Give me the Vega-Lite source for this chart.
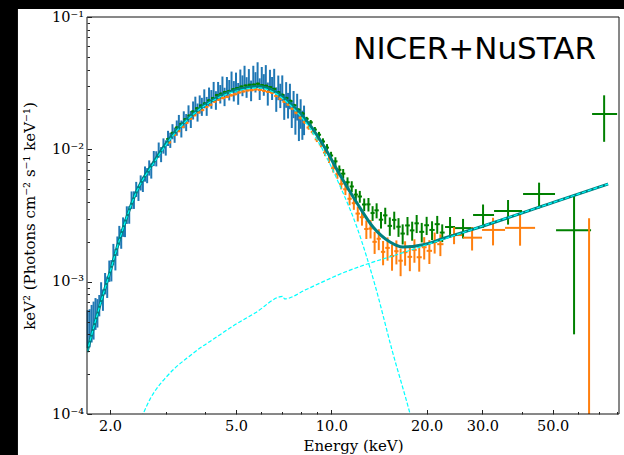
{
 "$schema": "https://vega.github.io/schema/vega-lite/v6.json",
 "width": 532, "height": 397,
 "autosize": {"type": "none"},
 "padding": {"left": 87, "top": 17, "right": 5, "bottom": 41},
 "background": "black",
 "config": {
  "view": {"stroke": null},
  "axis": {"zindex": 1, "grid": false, "domain": false, "labelFont": "DejaVu Serif", "titleFont": "DejaVu Serif", "labelFontSize": 14.5, "titleFontSize": 15, "titleFontWeight": "normal", "labelColor": "black", "titleColor": "black", "tickColor": "#222", "tickWidth": 1, "labelOverlap": false, "labelFlush": false, "labelBound": false}
 },
 "resolve": {"axis": {"x": "independent", "y": "independent"}},
 "datasets": {
  "nicer": [
   {"E":1.7,"F":4.62e-4,"err":1.47e-4},{"E":1.725,"F":4.69e-4,"err":1.5e-4},{"E":1.75,"F":5.07e-4,"err":1.6e-4},{"E":1.775,"F":5.36e-4,"err":1.71e-4},{"E":1.8,"F":5.92e-4,"err":1.6e-4},{"E":1.825,"F":5.94e-4,"err":1.44e-4},{"E":1.85,"F":6.7e-4,"err":1.23e-4},{"E":1.875,"F":8.36e-4,"err":1.54e-4},{"E":1.9,"F":7.38e-4,"err":1.36e-4},{"E":1.93,"F":9.82e-4,"err":1.81e-4},
   {"E":1.96,"F":9.23e-4,"err":1.7e-4},{"E":1.99,"F":1.22e-3,"err":2.24e-4},{"E":2.02,"F":1.23e-3,"err":2.26e-4},{"E":2.05,"F":1.63e-3,"err":2.99e-4},{"E":2.08,"F":1.49e-3,"err":2.74e-4},{"E":2.11,"F":1.88e-3,"err":3.15e-4},{"E":2.14,"F":2.26e-3,"err":3.79e-4},{"E":2.17,"F":2.13e-3,"err":3.58e-4},{"E":2.2,"F":2.62e-3,"err":4.4e-4},{"E":2.23,"F":2.56e-3,"err":3.89e-4},
   {"E":2.26,"F":3.22e-3,"err":4.9e-4},{"E":2.3,"F":3.23e-3,"err":4.91e-4},{"E":2.34,"F":4.17e-3,"err":6.34e-4},{"E":2.38,"F":4.18e-3,"err":6.35e-4},{"E":2.42,"F":5.02e-3,"err":6.56e-4},{"E":2.46,"F":4.68e-3,"err":6.08e-4},{"E":2.5,"F":5.62e-3,"err":7.36e-4},{"E":2.54,"F":5.48e-3,"err":7.2e-4},{"E":2.58,"F":6.56e-3,"err":8.64e-4},{"E":2.62,"F":6.38e-3,"err":8.32e-4},
   {"E":2.66,"F":7.29e-3,"err":9.6e-4},{"E":2.7,"F":6.92e-3,"err":9.12e-4},{"E":2.75,"F":8.59e-3,"err":1.12e-3},{"E":2.8,"F":8.55e-3,"err":1.12e-3},{"E":2.85,"F":9.95e-3,"err":1.31e-3},{"E":2.9,"F":9.2e-3,"err":1.2e-3},{"E":2.95,"F":1.069e-2,"err":1.41e-3},{"E":3.0,"F":1.033e-2,"err":1.36e-3},{"E":3.05,"F":1.22e-2,"err":1.6e-3},{"E":3.1,"F":1.18e-2,"err":1.55e-3},
   {"E":3.15,"F":1.37e-2,"err":1.79e-3},{"E":3.2,"F":1.29e-2,"err":1.7e-3},{"E":3.25,"F":1.46e-2,"err":1.92e-3},{"E":3.3,"F":1.585e-2,"err":2.34e-3},{"E":3.36,"F":1.44e-2,"err":2.11e-3},{"E":3.42,"F":1.69e-2,"err":2.48e-3},{"E":3.48,"F":1.61e-2,"err":2.37e-3},{"E":3.54,"F":1.875e-2,"err":2.75e-3},{"E":3.6,"F":1.7e-2,"err":2.5e-3},{"E":3.66,"F":1.99e-2,"err":3.1e-3},
   {"E":3.72,"F":2.16e-2,"err":3.4e-3},{"E":3.78,"F":1.92e-2,"err":3.0e-3},{"E":3.84,"F":2.21e-2,"err":3.45e-3},{"E":3.9,"F":2.12e-2,"err":3.3e-3},{"E":3.97,"F":2.44e-2,"err":4.0e-3},{"E":4.04,"F":2.14e-2,"err":3.5e-3},{"E":4.11,"F":2.52e-2,"err":4.1e-3},{"E":4.18,"F":2.415e-2,"err":3.9e-3},{"E":4.25,"F":2.78e-2,"err":4.5e-3},{"E":4.32,"F":2.37e-2,"err":3.8e-3},
   {"E":4.39,"F":2.79e-2,"err":4.4e-3},{"E":4.46,"F":2.64e-2,"err":4.2e-3},{"E":4.53,"F":3.06e-2,"err":4.9e-3},{"E":4.6,"F":2.52e-2,"err":4.0e-3},{"E":4.68,"F":3.0e-2,"err":5.2e-3},{"E":4.76,"F":2.84e-2,"err":5.0e-3},{"E":4.84,"F":3.3e-2,"err":5.7e-3},{"E":4.92,"F":2.79e-2,"err":4.9e-3},{"E":5.0,"F":3.24e-2,"err":5.6e-3},{"E":5.08,"F":2.67e-2,"err":5.0e-3},
   {"E":5.16,"F":3.4e-2,"err":6.1e-3},{"E":5.24,"F":3.07e-2,"err":5.5e-3},{"E":5.32,"F":3.65e-2,"err":6.3e-3},{"E":5.4,"F":2.98e-2,"err":5.3e-3},{"E":5.49,"F":3.44e-2,"err":6.0e-3},{"E":5.58,"F":2.81e-2,"err":5.0e-3},{"E":5.67,"F":3.64e-2,"err":6.4e-3},{"E":5.76,"F":3.26e-2,"err":5.7e-3},{"E":5.85,"F":3.85e-2,"err":7.0e-3},{"E":5.94,"F":2.9e-2,"err":5.4e-3},
   {"E":6.03,"F":3.53e-2,"err":6.6e-3},{"E":6.12,"F":3.12e-2,"err":5.8e-3},{"E":6.21,"F":3.63e-2,"err":7.0e-3},{"E":6.3,"F":2.67e-2,"err":5.3e-3},{"E":6.4,"F":3.33e-2,"err":6.6e-3},{"E":6.5,"F":2.94e-2,"err":5.8e-3},{"E":6.6,"F":3.36e-2,"err":7.0e-3},{"E":6.7,"F":2.43e-2,"err":5.1e-3},{"E":6.8,"F":2.98e-2,"err":6.3e-3},{"E":6.9,"F":2.59e-2,"err":5.4e-3},
   {"E":7.0,"F":2.97e-2,"err":6.5e-3},{"E":7.1,"F":2.14e-2,"err":4.7e-3},{"E":7.2,"F":2.64e-2,"err":5.8e-3},{"E":7.3,"F":2.19e-2,"err":4.8e-3},{"E":7.4,"F":2.57e-2,"err":5.6e-3},{"E":7.5,"F":1.88e-2,"err":4.3e-3},{"E":7.6,"F":2.24e-2,"err":5.2e-3},{"E":7.7,"F":1.68e-2,"err":3.9e-3},{"E":7.8,"F":2.14e-2,"err":4.9e-3},{"E":7.9,"F":1.535e-2,"err":3.8e-3},
   {"E":8.0,"F":1.91e-2,"err":4.8e-3},{"E":8.1,"F":1.57e-2,"err":3.9e-3},{"E":8.2,"F":1.71e-2,"err":4.3e-3}
  ],
  "fpma": [
   {"E":3.05,"Elo":3.01,"Ehi":3.09,"F":1.197e-2,"Flo":1.173e-2,"Fhi":1.221e-2},
   {"E":3.15,"Elo":3.11,"Ehi":3.19,"F":1.33e-2,"Flo":1.303e-2,"Fhi":1.357e-2},
   {"E":3.25,"Elo":3.21,"Ehi":3.29,"F":1.46e-2,"Flo":1.431e-2,"Fhi":1.489e-2},
   {"E":3.35,"Elo":3.31,"Ehi":3.39,"F":1.556e-2,"Flo":1.525e-2,"Fhi":1.587e-2},
   {"E":3.45,"Elo":3.41,"Ehi":3.49,"F":1.687e-2,"Flo":1.653e-2,"Fhi":1.721e-2},
   {"E":3.55,"Elo":3.51,"Ehi":3.59,"F":1.795e-2,"Flo":1.759e-2,"Fhi":1.831e-2},
   {"E":3.65,"Elo":3.61,"Ehi":3.69,"F":1.93e-2,"Flo":1.891e-2,"Fhi":1.969e-2},
   {"E":3.76,"Elo":3.71,"Ehi":3.81,"F":2.04e-2,"Flo":1.999e-2,"Fhi":2.081e-2},
   {"E":3.87,"Elo":3.82,"Ehi":3.92,"F":2.14e-2,"Flo":2.097e-2,"Fhi":2.183e-2},
   {"E":3.98,"Elo":3.93,"Ehi":4.03,"F":2.22e-2,"Flo":2.176e-2,"Fhi":2.264e-2},
   {"E":4.1,"Elo":4.05,"Ehi":4.15,"F":2.34e-2,"Flo":2.293e-2,"Fhi":2.387e-2},
   {"E":4.22,"Elo":4.17,"Ehi":4.27,"F":2.44e-2,"Flo":2.391e-2,"Fhi":2.489e-2},
   {"E":4.35,"Elo":4.29,"Ehi":4.41,"F":2.57e-2,"Flo":2.519e-2,"Fhi":2.621e-2},
   {"E":4.48,"Elo":4.42,"Ehi":4.54,"F":2.63e-2,"Flo":2.577e-2,"Fhi":2.683e-2},
   {"E":4.62,"Elo":4.55,"Ehi":4.69,"F":2.71e-2,"Flo":2.656e-2,"Fhi":2.764e-2},
   {"E":4.76,"Elo":4.69,"Ehi":4.83,"F":2.76e-2,"Flo":2.705e-2,"Fhi":2.815e-2},
   {"E":4.9,"Elo":4.83,"Ehi":4.97,"F":2.84e-2,"Flo":2.783e-2,"Fhi":2.897e-2},
   {"E":5.05,"Elo":4.97,"Ehi":5.13,"F":2.9e-2,"Flo":2.84e-2,"Fhi":2.96e-2},
   {"E":5.2,"Elo":5.12,"Ehi":5.28,"F":2.98e-2,"Flo":2.92e-2,"Fhi":3.04e-2},
   {"E":5.36,"Elo":5.28,"Ehi":5.44,"F":3.03e-2,"Flo":2.969e-2,"Fhi":3.091e-2},
   {"E":5.52,"Elo":5.44,"Ehi":5.6,"F":3.07e-2,"Flo":3.009e-2,"Fhi":3.131e-2},
   {"E":5.69,"Elo":5.6,"Ehi":5.78,"F":3.08e-2,"Flo":3.018e-2,"Fhi":3.142e-2},
   {"E":5.86,"Elo":5.77,"Ehi":5.95,"F":3.13e-2,"Flo":3.067e-2,"Fhi":3.193e-2},
   {"E":6.04,"Elo":5.95,"Ehi":6.13,"F":3.05e-2,"Flo":2.989e-2,"Fhi":3.111e-2},
   {"E":6.22,"Elo":6.13,"Ehi":6.31,"F":3.02e-2,"Flo":2.96e-2,"Fhi":3.08e-2},
   {"E":6.41,"Elo":6.31,"Ehi":6.51,"F":2.95e-2,"Flo":2.89e-2,"Fhi":3.01e-2},
   {"E":6.6,"Elo":6.5,"Ehi":6.7,"F":2.86e-2,"Flo":2.8e-2,"Fhi":2.92e-2},
   {"E":6.8,"Elo":6.7,"Ehi":6.9,"F":2.7e-2,"Flo":2.643e-2,"Fhi":2.757e-2},
   {"E":7.0,"Elo":6.9,"Ehi":7.1,"F":2.58e-2,"Flo":2.525e-2,"Fhi":2.635e-2},
   {"E":7.21,"Elo":7.1,"Ehi":7.32,"F":2.44e-2,"Flo":2.385e-2,"Fhi":2.495e-2},
   {"E":7.43,"Elo":7.32,"Ehi":7.54,"F":2.32e-2,"Flo":2.265e-2,"Fhi":2.375e-2},
   {"E":7.65,"Elo":7.54,"Ehi":7.76,"F":2.15e-2,"Flo":2.095e-2,"Fhi":2.205e-2},
   {"E":7.88,"Elo":7.76,"Ehi":8.0,"F":1.99e-2,"Flo":1.935e-2,"Fhi":2.045e-2},
   {"E":8.12,"Elo":8.0,"Ehi":8.24,"F":1.86e-2,"Flo":1.8e-2,"Fhi":1.92e-2},
   {"E":8.36,"Elo":8.24,"Ehi":8.48,"F":1.7e-2,"Flo":1.64e-2,"Fhi":1.76e-2},
   {"E":8.61,"Elo":8.48,"Ehi":8.74,"F":1.6e-2,"Flo":1.535e-2,"Fhi":1.665e-2},
   {"E":8.87,"Elo":8.74,"Ehi":9.0,"F":1.41e-2,"Flo":1.345e-2,"Fhi":1.475e-2},
   {"E":9.14,"Elo":9.0,"Ehi":9.28,"F":1.29e-2,"Flo":1.225e-2,"Fhi":1.355e-2},
   {"E":9.41,"Elo":9.27,"Ehi":9.55,"F":1.146e-2,"Flo":1.081e-2,"Fhi":1.211e-2},
   {"E":9.69,"Elo":9.55,"Ehi":9.83,"F":1.03e-2,"Flo":9.65e-3,"Fhi":1.095e-2},
   {"E":9.98,"Elo":9.83,"Ehi":10.13,"F":8.98e-3,"Flo":8.38e-3,"Fhi":9.58e-3},
   {"E":10.3,"Elo":10.14,"Ehi":10.46,"F":8.11e-3,"Flo":7.51e-3,"Fhi":8.71e-3},
   {"E":10.6,"Elo":10.44,"Ehi":10.76,"F":7.0e-3,"Flo":6.45e-3,"Fhi":7.55e-3},
   {"E":10.9,"Elo":10.73,"Ehi":11.07,"F":6.55e-3,"Flo":6.0e-3,"Fhi":7.1e-3},
   {"E":11.25,"Elo":11.07,"Ehi":11.43,"F":5.64e-3,"Flo":5.14e-3,"Fhi":6.14e-3},
   {"E":11.6,"Elo":11.42,"Ehi":11.78,"F":5.24e-3,"Flo":4.74e-3,"Fhi":5.74e-3},
   {"E":11.95,"Elo":11.77,"Ehi":12.13,"F":4.55e-3,"Flo":4.1e-3,"Fhi":5.0e-3},
   {"E":12.3,"Elo":12.1,"Ehi":12.5,"F":4.4e-3,"Flo":3.95e-3,"Fhi":4.85e-3},
   {"E":12.7,"Elo":12.5,"Ehi":12.9,"F":3.83e-3,"Flo":3.41e-3,"Fhi":4.25e-3},
   {"E":13.1,"Elo":12.9,"Ehi":13.3,"F":3.84e-3,"Flo":3.39e-3,"Fhi":4.29e-3},
   {"E":13.5,"Elo":13.3,"Ehi":13.7,"F":3.3e-3,"Flo":2.88e-3,"Fhi":3.72e-3},
   {"E":13.9,"Elo":13.68,"Ehi":14.12,"F":3.46e-3,"Flo":3.01e-3,"Fhi":3.91e-3},
   {"E":14.35,"Elo":14.12,"Ehi":14.58,"F":2.94e-3,"Flo":2.52e-3,"Fhi":3.36e-3},
   {"E":14.8,"Elo":14.56,"Ehi":15.04,"F":3.17e-3,"Flo":2.72e-3,"Fhi":3.62e-3},
   {"E":15.3,"Elo":15.05,"Ehi":15.55,"F":2.64e-3,"Flo":2.22e-3,"Fhi":3.06e-3},
   {"E":15.8,"Elo":15.55,"Ehi":16.05,"F":2.93e-3,"Flo":2.48e-3,"Fhi":3.38e-3},
   {"E":16.3,"Elo":16.04,"Ehi":16.56,"F":2.6e-3,"Flo":2.18e-3,"Fhi":3.02e-3},
   {"E":16.8,"Elo":16.53,"Ehi":17.07,"F":2.31e-3,"Flo":1.91e-3,"Fhi":2.71e-3},
   {"E":17.4,"Elo":17.1,"Ehi":17.7,"F":2.66e-3,"Flo":2.24e-3,"Fhi":3.08e-3},
   {"E":18.0,"Elo":17.7,"Ehi":18.3,"F":2.44e-3,"Flo":2.04e-3,"Fhi":2.84e-3},
   {"E":18.6,"Elo":18.3,"Ehi":18.9,"F":2.76e-3,"Flo":2.33e-3,"Fhi":3.19e-3},
   {"E":19.3,"Elo":18.95,"Ehi":19.65,"F":2.38e-3,"Flo":1.98e-3,"Fhi":2.78e-3},
   {"E":20.0,"Elo":19.65,"Ehi":20.35,"F":2.67e-3,"Flo":2.25e-3,"Fhi":3.09e-3},
   {"E":20.8,"Elo":20.4,"Ehi":21.2,"F":2.46e-3,"Flo":2.06e-3,"Fhi":2.86e-3},
   {"E":21.6,"Elo":21.2,"Ehi":22.0,"F":2.72e-3,"Flo":2.3e-3,"Fhi":3.14e-3},
   {"E":22.4,"Elo":22.0,"Ehi":22.8,"F":2.35e-3,"Flo":1.99e-3,"Fhi":2.71e-3},
   {"E":23.71,"Elo":22.86,"Ehi":24.59,"F":2.59e-3,"Flo":2.17e-3,"Fhi":3.08e-3},
   {"E":26.06,"Elo":24.59,"Ehi":28.03,"F":2.54e-3,"Flo":2.12e-3,"Fhi":2.98e-3},
   {"E":30.14,"Elo":28.03,"Ehi":32.65,"F":3.19e-3,"Flo":2.55e-3,"Fhi":3.83e-3},
   {"E":36.15,"Elo":32.65,"Ehi":40.03,"F":3.42e-3,"Flo":2.7e-3,"Fhi":4.14e-3},
   {"E":45.3,"Elo":40.32,"Ehi":50.87,"F":4.59e-3,"Flo":3.58e-3,"Fhi":5.6e-3},
   {"E":58.42,"Elo":51.25,"Ehi":66.11,"F":2.45e-3,"Flo":4.0e-4,"Fhi":4.5e-3},
   {"E":72.7,"Elo":66.6,"Ehi":79.9,"F":1.849e-2,"Flo":1.14e-2,"Fhi":2.56e-2}
  ],
  "fpmb": [
   {"E":3.08,"Elo":3.04,"Ehi":3.12,"F":1.13e-2,"Flo":1.107e-2,"Fhi":1.153e-2},
   {"E":3.2,"Elo":3.16,"Ehi":3.24,"F":1.285e-2,"Flo":1.259e-2,"Fhi":1.311e-2},
   {"E":3.3,"Elo":3.26,"Ehi":3.34,"F":1.374e-2,"Flo":1.346e-2,"Fhi":1.402e-2},
   {"E":3.4,"Elo":3.36,"Ehi":3.44,"F":1.48e-2,"Flo":1.45e-2,"Fhi":1.51e-2},
   {"E":3.5,"Elo":3.46,"Ehi":3.54,"F":1.585e-2,"Flo":1.553e-2,"Fhi":1.617e-2},
   {"E":3.6,"Elo":3.56,"Ehi":3.64,"F":1.7e-2,"Flo":1.666e-2,"Fhi":1.734e-2},
   {"E":3.7,"Elo":3.65,"Ehi":3.75,"F":1.81e-2,"Flo":1.774e-2,"Fhi":1.846e-2},
   {"E":3.81,"Elo":3.76,"Ehi":3.86,"F":1.905e-2,"Flo":1.867e-2,"Fhi":1.943e-2},
   {"E":3.92,"Elo":3.87,"Ehi":3.97,"F":1.98e-2,"Flo":1.94e-2,"Fhi":2.02e-2},
   {"E":4.04,"Elo":3.99,"Ehi":4.09,"F":2.09e-2,"Flo":2.048e-2,"Fhi":2.132e-2},
   {"E":4.16,"Elo":4.11,"Ehi":4.21,"F":2.17e-2,"Flo":2.127e-2,"Fhi":2.213e-2},
   {"E":4.28,"Elo":4.22,"Ehi":4.34,"F":2.29e-2,"Flo":2.244e-2,"Fhi":2.336e-2},
   {"E":4.41,"Elo":4.35,"Ehi":4.47,"F":2.37e-2,"Flo":2.323e-2,"Fhi":2.417e-2},
   {"E":4.55,"Elo":4.48,"Ehi":4.62,"F":2.44e-2,"Flo":2.391e-2,"Fhi":2.489e-2},
   {"E":4.69,"Elo":4.62,"Ehi":4.76,"F":2.49e-2,"Flo":2.44e-2,"Fhi":2.54e-2},
   {"E":4.83,"Elo":4.76,"Ehi":4.9,"F":2.56e-2,"Flo":2.509e-2,"Fhi":2.611e-2},
   {"E":4.97,"Elo":4.89,"Ehi":5.05,"F":2.61e-2,"Flo":2.558e-2,"Fhi":2.662e-2},
   {"E":5.12,"Elo":5.04,"Ehi":5.2,"F":2.69e-2,"Flo":2.636e-2,"Fhi":2.744e-2},
   {"E":5.28,"Elo":5.2,"Ehi":5.36,"F":2.74e-2,"Flo":2.685e-2,"Fhi":2.795e-2},
   {"E":5.44,"Elo":5.36,"Ehi":5.52,"F":2.79e-2,"Flo":2.734e-2,"Fhi":2.846e-2},
   {"E":5.6,"Elo":5.51,"Ehi":5.69,"F":2.8e-2,"Flo":2.744e-2,"Fhi":2.856e-2},
   {"E":5.77,"Elo":5.68,"Ehi":5.86,"F":2.84e-2,"Flo":2.783e-2,"Fhi":2.897e-2},
   {"E":5.95,"Elo":5.86,"Ehi":6.04,"F":2.81e-2,"Flo":2.754e-2,"Fhi":2.866e-2},
   {"E":6.13,"Elo":6.04,"Ehi":6.22,"F":2.77e-2,"Flo":2.715e-2,"Fhi":2.825e-2},
   {"E":6.31,"Elo":6.21,"Ehi":6.41,"F":2.72e-2,"Flo":2.666e-2,"Fhi":2.774e-2},
   {"E":6.5,"Elo":6.4,"Ehi":6.6,"F":2.68e-2,"Flo":2.626e-2,"Fhi":2.734e-2},
   {"E":6.7,"Elo":6.6,"Ehi":6.8,"F":2.53e-2,"Flo":2.479e-2,"Fhi":2.581e-2},
   {"E":6.9,"Elo":6.8,"Ehi":7.0,"F":2.415e-2,"Flo":2.365e-2,"Fhi":2.465e-2},
   {"E":7.1,"Elo":7.0,"Ehi":7.2,"F":2.29e-2,"Flo":2.24e-2,"Fhi":2.34e-2},
   {"E":7.32,"Elo":7.21,"Ehi":7.43,"F":2.18e-2,"Flo":2.13e-2,"Fhi":2.23e-2},
   {"E":7.54,"Elo":7.43,"Ehi":7.65,"F":2.03e-2,"Flo":1.98e-2,"Fhi":2.08e-2},
   {"E":7.76,"Elo":7.64,"Ehi":7.88,"F":1.89e-2,"Flo":1.84e-2,"Fhi":1.94e-2},
   {"E":8.0,"Elo":7.88,"Ehi":8.12,"F":1.73e-2,"Flo":1.68e-2,"Fhi":1.78e-2},
   {"E":8.24,"Elo":8.12,"Ehi":8.36,"F":1.61e-2,"Flo":1.555e-2,"Fhi":1.665e-2},
   {"E":8.48,"Elo":8.35,"Ehi":8.61,"F":1.46e-2,"Flo":1.405e-2,"Fhi":1.515e-2},
   {"E":8.74,"Elo":8.61,"Ehi":8.87,"F":1.35e-2,"Flo":1.295e-2,"Fhi":1.405e-2},
   {"E":9.0,"Elo":8.86,"Ehi":9.14,"F":1.19e-2,"Flo":1.135e-2,"Fhi":1.245e-2},
   {"E":9.27,"Elo":9.13,"Ehi":9.41,"F":1.09e-2,"Flo":1.035e-2,"Fhi":1.145e-2},
   {"E":9.55,"Elo":9.41,"Ehi":9.69,"F":9.44e-3,"Flo":8.89e-3,"Fhi":9.99e-3},
   {"E":9.83,"Elo":9.68,"Ehi":9.98,"F":8.43e-3,"Flo":7.88e-3,"Fhi":8.98e-3},
   {"E":10.14,"Elo":9.98,"Ehi":10.3,"F":7.21e-3,"Flo":6.68e-3,"Fhi":7.74e-3},
   {"E":10.45,"Elo":10.29,"Ehi":10.61,"F":6.49e-3,"Flo":5.99e-3,"Fhi":6.99e-3},
   {"E":10.75,"Elo":10.58,"Ehi":10.92,"F":5.48e-3,"Flo":4.98e-3,"Fhi":5.98e-3},
   {"E":11.08,"Elo":10.9,"Ehi":11.26,"F":4.99e-3,"Flo":4.51e-3,"Fhi":5.47e-3},
   {"E":11.42,"Elo":11.24,"Ehi":11.6,"F":4.23e-3,"Flo":3.78e-3,"Fhi":4.68e-3},
   {"E":11.78,"Elo":11.6,"Ehi":11.96,"F":3.92e-3,"Flo":3.49e-3,"Fhi":4.35e-3},
   {"E":12.12,"Elo":11.92,"Ehi":12.32,"F":3.27e-3,"Flo":2.85e-3,"Fhi":3.69e-3},
   {"E":12.5,"Elo":12.3,"Ehi":12.7,"F":3.07e-3,"Flo":2.65e-3,"Fhi":3.49e-3},
   {"E":12.9,"Elo":12.7,"Ehi":13.1,"F":2.5e-3,"Flo":2.1e-3,"Fhi":2.9e-3},
   {"E":13.3,"Elo":13.1,"Ehi":13.5,"F":2.52e-3,"Flo":2.12e-3,"Fhi":2.92e-3},
   {"E":13.7,"Elo":13.48,"Ehi":13.92,"F":2.0e-3,"Flo":1.62e-3,"Fhi":2.38e-3},
   {"E":14.12,"Elo":13.9,"Ehi":14.34,"F":2.11e-3,"Flo":1.73e-3,"Fhi":2.49e-3},
   {"E":14.57,"Elo":14.34,"Ehi":14.8,"F":1.68e-3,"Flo":1.33e-3,"Fhi":2.03e-3},
   {"E":15.05,"Elo":14.8,"Ehi":15.3,"F":1.8e-3,"Flo":1.44e-3,"Fhi":2.16e-3},
   {"E":15.55,"Elo":15.3,"Ehi":15.8,"F":1.56e-3,"Flo":1.21e-3,"Fhi":1.91e-3},
   {"E":16.05,"Elo":15.8,"Ehi":16.3,"F":1.7e-3,"Flo":1.35e-3,"Fhi":2.05e-3},
   {"E":16.55,"Elo":16.28,"Ehi":16.82,"F":1.44e-3,"Flo":1.1e-3,"Fhi":1.78e-3},
   {"E":17.1,"Elo":16.8,"Ehi":17.4,"F":1.67e-3,"Flo":1.32e-3,"Fhi":2.02e-3},
   {"E":17.7,"Elo":17.4,"Ehi":18.0,"F":1.54e-3,"Flo":1.2e-3,"Fhi":1.88e-3},
   {"E":18.3,"Elo":18.0,"Ehi":18.6,"F":1.74e-3,"Flo":1.39e-3,"Fhi":2.09e-3},
   {"E":18.95,"Elo":18.6,"Ehi":19.3,"F":1.53e-3,"Flo":1.19e-3,"Fhi":1.87e-3},
   {"E":19.65,"Elo":19.3,"Ehi":20.0,"F":1.82e-3,"Flo":1.47e-3,"Fhi":2.17e-3},
   {"E":20.4,"Elo":20.0,"Ehi":20.8,"F":1.71e-3,"Flo":1.36e-3,"Fhi":2.06e-3},
   {"E":21.2,"Elo":20.8,"Ehi":21.6,"F":1.99e-3,"Flo":1.63e-3,"Fhi":2.35e-3},
   {"E":22.1,"Elo":21.6,"Ehi":22.6,"F":1.92e-3,"Flo":1.56e-3,"Fhi":2.28e-3},
   {"E":24.41,"Elo":23.71,"Ehi":25.87,"F":2.25e-3,"Flo":1.92e-3,"Fhi":2.58e-3},
   {"E":27.83,"Elo":26.06,"Ehi":29.92,"F":2.15e-3,"Flo":1.72e-3,"Fhi":2.58e-3},
   {"E":32.41,"Elo":29.92,"Ehi":35.37,"F":2.46e-3,"Flo":1.88e-3,"Fhi":3.04e-3},
   {"E":39.45,"Elo":35.37,"Ehi":44.0,"F":2.55e-3,"Flo":1.87e-3,"Fhi":3.23e-3},
   {"E":65.16,"Elo":58.42,"Ehi":72.7,"F":5e-5,"Flo":1e-6,"Fhi":3.02e-3}
  ],
  "model": [
   {"E":1.692,"F":2.937e-4},{"E":1.859,"F":6.65e-4},{"E":2.0,"F":1.182e-3},{"E":2.15,"F":2.136e-3},{"E":2.399,"F":4.515e-3},{"E":2.775,"F":8.3e-3},{"E":3.208,"F":1.351e-2},{"E":3.711,"F":1.913e-2},{"E":4.386,"F":2.484e-2},{"E":5.339,"F":2.906e-2},{"E":5.868,"F":2.983e-2},{"E":6.497,"F":2.807e-2},{"E":7.405,"F":2.239e-2},{"E":8.566,"F":1.526e-2},{"E":9.552,"F":1.023e-2},{"E":10.65,"F":6.39e-3},{"E":12.05,"F":3.93e-3},{"E":13.54,"F":2.587e-3},{"E":15.32,"F":1.993e-3},{"E":16.85,"F":1.826e-3},{"E":19.48,"F":1.9e-3},{"E":22.53,"F":2.12e-3},{"E":27.43,"F":2.45e-3},{"E":50.51,"F":3.99e-3},{"E":74.82,"F":5.47e-3}
  ],
  "disk": [
   {"E":1.692,"F":2.93e-4},{"E":1.859,"F":6.64e-4},{"E":2.0,"F":1.18e-3},{"E":2.15,"F":2.13e-3},{"E":2.399,"F":4.49e-3},{"E":2.775,"F":8.14e-3},{"E":3.208,"F":1.327e-2},{"E":3.711,"F":1.883e-2},{"E":4.386,"F":2.444e-2},{"E":5.339,"F":2.85e-2},{"E":5.868,"F":2.92e-2},{"E":6.497,"F":2.737e-2},{"E":7.405,"F":2.163e-2},{"E":8.566,"F":1.436e-2},{"E":9.552,"F":9.2e-3},{"E":10.65,"F":5.29e-3},{"E":12.1,"F":2.5e-3},{"E":13.74,"F":9.4e-4},{"E":15.55,"F":3.04e-4},{"E":17.73,"F":1.0e-4},{"E":19.0,"F":5.2e-5}
  ],
  "pl": [
   {"E":2.313,"F":5.82e-5},{"E":2.543,"F":9.98e-5},{"E":2.676,"F":1.296e-4},{"E":2.815,"F":1.569e-4},{"E":2.99,"F":1.867e-4},{"E":3.208,"F":2.223e-4},{"E":3.501,"F":2.646e-4},{"E":3.848,"F":3.148e-4},{"E":4.293,"F":3.748e-4},{"E":4.892,"F":4.618e-4},{"E":5.741,"F":5.79e-4},{"E":7.04,"F":7.75e-4},{"E":7.11,"F":7.4e-4},{"E":8.259,"F":8.64e-4},{"E":9.21,"F":9.76e-4},{"E":11.05,"F":1.182e-3},{"E":13.25,"F":1.382e-3},{"E":16.48,"F":1.628e-3},{"E":19.48,"F":1.861e-3},{"E":22.53,"F":2.09e-3},{"E":27.43,"F":2.447e-3},{"E":50.51,"F":3.99e-3},{"E":74.82,"F":5.47e-3}
  ]
 },
 "layer": [
  {
   "data": {"values": [{}]},
   "mark": {"type": "rect", "color": "white"},
   "encoding": {
    "x": {"datum": 1.024, "type": "quantitative", "scale": {"type": "log", "domain": [1.692, 81], "nice": false}, "axis": null},
    "x2": {"datum": 1000},
    "y": {"datum": 0.1151, "type": "quantitative", "scale": {"type": "log", "domain": [0.0001, 0.1], "nice": false}, "axis": null},
    "y2": {"datum": 1e-7}
   }
  },
  {
   "data": {"name": "nicer"},
   "mark": {"type": "errorbar", "color": "#1f77b4", "thickness": 2},
   "encoding": {
    "x": {"field": "E", "type": "quantitative", "scale": {"type": "log", "domain": [1.692, 81], "nice": false}, "axis": null},
    "y": {"field": "F", "type": "quantitative", "scale": {"type": "log", "domain": [0.0001, 0.1], "nice": false}, "axis": null},
    "yError": {"field": "err"}
   }
  },
  {
   "data": {"name": "fpma"},
   "mark": {"type": "rule", "color": "#008000", "strokeWidth": 2, "clip": true},
   "encoding": {
    "x": {"field": "E", "type": "quantitative", "scale": {"type": "log", "domain": [1.692, 81], "nice": false}, "axis": null},
    "y": {"field": "Flo", "type": "quantitative", "scale": {"type": "log", "domain": [0.0001, 0.1], "nice": false}, "axis": null},
    "y2": {"field": "Fhi"}
   }
  },
  {
   "data": {"name": "fpma"},
   "mark": {"type": "rule", "color": "#008000", "strokeWidth": 2, "clip": true},
   "encoding": {
    "x": {"field": "Elo", "type": "quantitative", "scale": {"type": "log", "domain": [1.692, 81], "nice": false}, "axis": null},
    "x2": {"field": "Ehi"},
    "y": {"field": "F", "type": "quantitative", "scale": {"type": "log", "domain": [0.0001, 0.1], "nice": false}, "axis": null}
   }
  },
  {
   "data": {"name": "fpmb"},
   "mark": {"type": "rule", "color": "#ff7f0e", "strokeWidth": 2, "clip": true},
   "encoding": {
    "x": {"field": "E", "type": "quantitative", "scale": {"type": "log", "domain": [1.692, 81], "nice": false}, "axis": null},
    "y": {"field": "Flo", "type": "quantitative", "scale": {"type": "log", "domain": [0.0001, 0.1], "nice": false}, "axis": null},
    "y2": {"field": "Fhi"}
   }
  },
  {
   "data": {"name": "fpmb"},
   "mark": {"type": "rule", "color": "#ff7f0e", "strokeWidth": 2, "clip": true},
   "encoding": {
    "x": {"field": "Elo", "type": "quantitative", "scale": {"type": "log", "domain": [1.692, 81], "nice": false}, "axis": null},
    "x2": {"field": "Ehi"},
    "y": {"field": "F", "type": "quantitative", "scale": {"type": "log", "domain": [0.0001, 0.1], "nice": false}, "axis": null}
   }
  },
  {
   "data": {"name": "model"},
   "mark": {"type": "line", "color": "#008080", "strokeWidth": 3, "interpolate": "monotone", "clip": true},
   "encoding": {
    "x": {"field": "E", "type": "quantitative", "scale": {"type": "log", "domain": [1.692, 81], "nice": false},
     "axis": {"orient": "bottom", "zindex": 2, "title": "Energy (keV)", "values": [2,5,10,20,30,50],
      "labelExpr": "format(datum.value, '.1f')",
      "tickSize": -4.5, "labelPadding": 10, "titlePadding": 5}},
    "y": {"field": "F", "type": "quantitative", "scale": {"type": "log", "domain": [0.0001, 0.1], "nice": false},
     "axis": {"orient": "left", "zindex": 2, "title": "keV² (Photons cm⁻² s⁻¹ keV⁻¹)",
      "values": [0.0001,0.001,0.01,0.1],
      "labelExpr": "datum.value == 0.1 ? '10⁻¹' : datum.value == 0.01 ? '10⁻²' : datum.value == 0.001 ? '10⁻³' : '10⁻⁴'",
      "tickSize": -4.5, "labelPadding": 8, "titlePadding": 14}}
   }
  },
  {
   "data": {"name": "disk"},
   "mark": {"type": "line", "color": "#00ffff", "strokeWidth": 1.2, "strokeDash": [4, 2], "interpolate": "monotone", "clip": true},
   "encoding": {
    "x": {"field": "E", "type": "quantitative", "scale": {"type": "log", "domain": [1.692, 81], "nice": false},
     "axis": {"orient": "bottom", "zindex": 2, "title": null, "labels": false, "values": [3,4,6,7,8,9,40,60,70,80], "tickSize": -2.5}},
    "y": {"field": "F", "type": "quantitative", "scale": {"type": "log", "domain": [0.0001, 0.1], "nice": false},
     "axis": {"orient": "left", "zindex": 2, "title": null, "labels": false, "tickSize": -2.5,
      "values": [0.0002,0.0003,0.0004,0.0005,0.0006,0.0007,0.0008,0.0009,0.002,0.003,0.004,0.005,0.006,0.007,0.008,0.009,0.02,0.03,0.04,0.05,0.06,0.07,0.08,0.09]}}
   }
  },
  {
   "data": {"name": "pl"},
   "mark": {"type": "line", "color": "#00ffff", "strokeWidth": 1.2, "strokeDash": [4, 2], "interpolate": "monotone", "clip": true},
   "encoding": {
    "x": {"field": "E", "type": "quantitative", "scale": {"type": "log", "domain": [1.692, 81], "nice": false}, "axis": null},
    "y": {"field": "F", "type": "quantitative", "scale": {"type": "log", "domain": [0.0001, 0.1], "nice": false}, "axis": null}
   }
  },
  {
   "data": {"values": [{}]},
   "mark": {"type": "rect", "filled": false, "color": "#111", "strokeWidth": 1},
   "encoding": {
    "x": {"datum": 1.692, "type": "quantitative", "scale": {"type": "log", "domain": [1.692, 81], "nice": false}, "axis": null},
    "x2": {"datum": 81},
    "y": {"datum": 0.1, "type": "quantitative", "scale": {"type": "log", "domain": [0.0001, 0.1], "nice": false}, "axis": null},
    "y2": {"datum": 0.0001}
   }
  },
  {
   "data": {"values": [{"label": "NICER+NuSTAR"}]},
   "mark": {"type": "text", "font": "DejaVu Sans", "fontSize": 31, "align": "right", "baseline": "alphabetic", "color": "black"},
   "encoding": {
    "x": {"datum": 68.56, "type": "quantitative", "scale": {"type": "log", "domain": [1.692, 81], "nice": false}, "axis": null},
    "y": {"datum": 0.04814, "type": "quantitative", "scale": {"type": "log", "domain": [0.0001, 0.1], "nice": false}, "axis": null},
    "text": {"field": "label", "type": "nominal"}
   }
  }
 ]
}
